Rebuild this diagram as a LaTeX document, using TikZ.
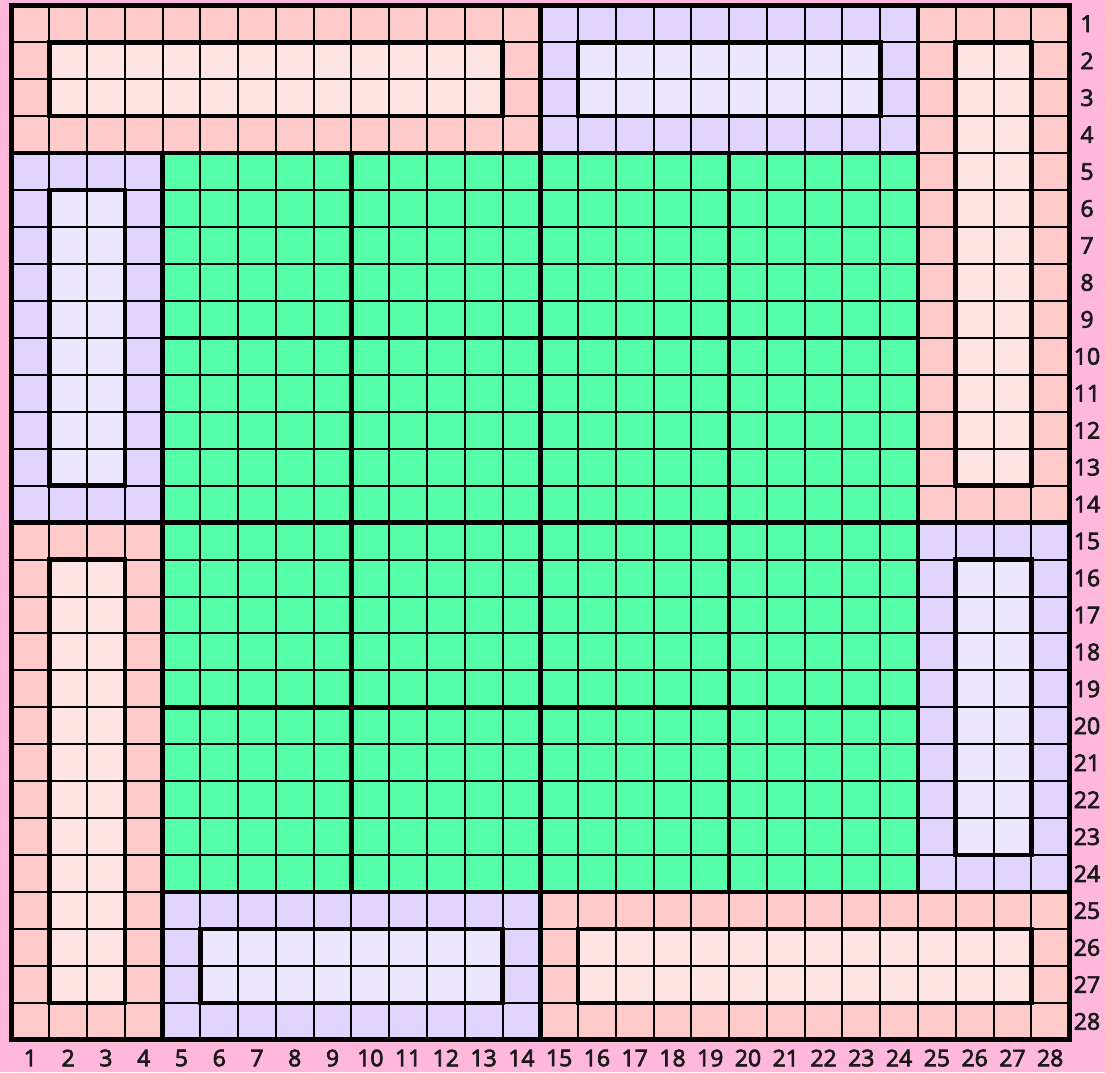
\documentclass[tikz,border=0pt]{standalone}
\usepackage{fontspec}
\setmainfont{Open Sans}
\newfontfamily\lblfont{Open Sans}[BoldFont={Open Sans},BoldFeatures={FakeBold=3}]
\definecolor{bgpink}{HTML}{FFB8DC}
\definecolor{pinkA}{HTML}{FFCACA}
\definecolor{pinkB}{HTML}{FFE4E4}
\definecolor{lavA}{HTML}{E0D4FF}
\definecolor{lavB}{HTML}{ECE6FF}
\definecolor{grn}{HTML}{55FFAA}
\tikzset{
  thingrid/.style={line width=2pt, draw=black},
  thickline/.style={line width=4.6pt, draw=black, line cap=rect},
  border/.style={line width=5pt, draw=black, line cap=rect},
  lbl/.style={font=\lblfont\bfseries\fontsize{23}{27}\selectfont, text=black!90, inner sep=0pt, anchor=center},
}
\begin{document}
\begin{tikzpicture}[x=1pt,y=-1pt]
\fill[bgpink] (0,0) rectangle (1105,1072);
\useasboundingbox (0,0) rectangle (1105,1072);
\begin{scope}[shift={(11.5pt,-5.3pt)}, x=37.77pt, y=-36.95pt]
  % region fills
  \fill[pinkA] (0,0) rectangle (14,4);
  \fill[pinkA] (24,0) rectangle (28,14);
  \fill[pinkA] (0,14) rectangle (4,28);
  \fill[pinkA] (14,24) rectangle (28,28);
  \fill[lavA] (14,0) rectangle (24,4);
  \fill[lavA] (0,4) rectangle (4,14);
  \fill[lavA] (24,14) rectangle (28,24);
  \fill[lavA] (4,24) rectangle (14,28);
  \fill[grn] (4,4) rectangle (24,24);
  % inner fills
  \fill[pinkB] (1,1) rectangle (13,3);
  \fill[pinkB] (25,1) rectangle (27,13);
  \fill[pinkB] (1,15) rectangle (3,27);
  \fill[pinkB] (15,25) rectangle (27,27);
  \fill[lavB] (15,1) rectangle (23,3);
  \fill[lavB] (1,5) rectangle (3,13);
  \fill[lavB] (25,15) rectangle (27,23);
  \fill[lavB] (5,25) rectangle (13,27);
  % thin grid
  \foreach \i in {1,...,27} {
    \draw[thingrid] (\i,0) -- (\i,28);
    \draw[thingrid] (0,\i) -- (28,\i);
  }
  % region outlines
  \draw[thickline] (0,0) rectangle (14,4);
  \draw[thickline] (24,0) rectangle (28,14);
  \draw[thickline] (0,14) rectangle (4,28);
  \draw[thickline] (14,24) rectangle (28,28);
  \draw[thickline] (14,0) rectangle (24,4);
  \draw[thickline] (0,4) rectangle (4,14);
  \draw[thickline] (24,14) rectangle (28,24);
  \draw[thickline] (4,24) rectangle (14,28);
  \draw[thickline] (4,4) rectangle (24,24);
  \foreach \i in {9,14,19} {
    \draw[thickline] (\i,4) -- (\i,24);
    \draw[thickline] (4,\i) -- (24,\i);
  }
  % inner boxes
  \draw[thickline] (1,1) rectangle (13,3);
  \draw[thickline] (25,1) rectangle (27,13);
  \draw[thickline] (1,15) rectangle (3,27);
  \draw[thickline] (15,25) rectangle (27,27);
  \draw[thickline] (15,1) rectangle (23,3);
  \draw[thickline] (1,5) rectangle (3,13);
  \draw[thickline] (25,15) rectangle (27,23);
  \draw[thickline] (5,25) rectangle (13,27);
  % outer border
  \draw[border] (0,0) rectangle (28,28);
  % labels
  \foreach \i in {1,...,28} {
    \node[lbl] (col\i) at (\i-0.5, 28.49) {\i};
    \node[lbl] (row\i) at (28.475, \i-0.5) {\i};
  }
\end{scope}
\end{tikzpicture}
\end{document}
